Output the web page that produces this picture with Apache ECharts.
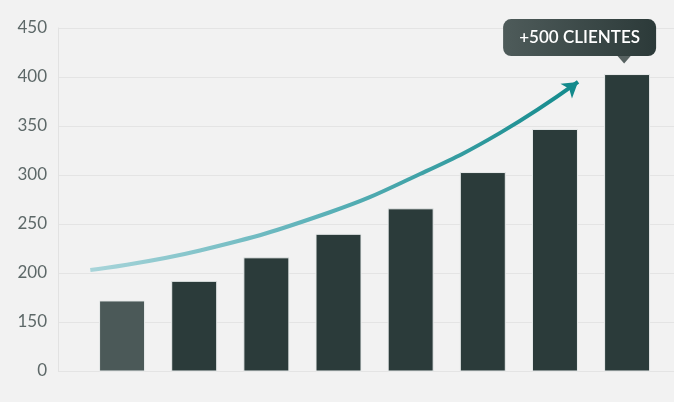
<!DOCTYPE html>
<html>
<head>
<meta charset="utf-8">
<script src="https://cdn.jsdelivr.net/npm/echarts@6/dist/echarts.min.js"></script>
<style>
html,body{margin:0;padding:0;background:#f2f2f2;}
#c{width:674px;height:402px;}
</style>
</head>
<body>
<div id="c"></div>
<script>
// Data
const categories = [0, 1, 2, 3, 4, 5, 6, 7];
const clientes = [172, 192, 216, 240, 266, 303, 347, 403];
const trendX = [-0.44, 1.08, 2.88, 4.13, 5.24, 6.32];
const trendY = [203, 223, 262, 301, 343, 395];
const yMin = 100, yMax = 450, yStep = 50;
const yZeroLabelValue = 100; // shown as "0" (broken axis)
const calloutText = '+500 CLIENTES';

const barData = clientes.map((v, i) => {
  const item = { value: [categories[i], v], itemStyle: { color: i === 0 ? '#4b5958' : '#2b3b3a' } };
  if (i === clientes.length - 1) {
    item.label = {
      show: true, position: 'top', distance: 18, offset: [-47.5, 0],
      formatter: calloutText,
      color: '#ffffff', fontFamily: 'Lato', fontSize: 17, fontWeight: 600,
      backgroundColor: new echarts.graphic.LinearGradient(0, 0, 1, 0, [
        { offset: 0, color: '#4e5b5a' }, { offset: 1, color: '#2c3a39' }
      ]),
      borderRadius: 8, padding: [9, 13], width: 127, height: 19,
      align: 'center', verticalAlign: 'bottom', lineHeight: 19
    };
  }
  return item;
});

const trendData = trendX.map((x, i) => {
  const d = { value: [x, trendY[i]] };
  if (i === trendX.length - 1) {
    d.symbol = 'arrow';
    d.symbolSize = [14, 15];
    d.symbolRotate = -52;
    d.itemStyle = { color: '#138a8c' };
  }
  return d;
});

const chart = echarts.init(document.getElementById('c'));
chart.setOption({
  backgroundColor: '#f2f2f2',
  animation: false,
  grid: { left: 58, right: 0, top: 28, bottom: 31 },
  xAxis: {
    type: 'value', min: -0.888, max: 7.65, show: false,
    splitLine: { show: false }
  },
  yAxis: {
    type: 'value', min: yMin, max: yMax, interval: yStep,
    axisLine: { show: true, onZero: false, lineStyle: { color: '#e2e2e2', width: 1 } },
    axisTick: { show: false },
    splitLine: { lineStyle: { color: '#e4e4e4', width: 1 } },
    axisLabel: {
      margin: 11, color: '#5d6868', fontFamily: 'Lato', fontSize: 17,
      formatter: v => (v === yZeroLabelValue ? '0' : String(v))
    }
  },
  series: [
    {
      type: 'bar', data: barData, barWidth: 46,
      itemStyle: { borderColor: '#e9ecec', borderWidth: 1 },
      z: 2
    },
    {
      type: 'scatter', data: [[categories[7], clientes[7]]],
      symbol: 'triangle', symbolRotate: 180, symbolSize: [14, 8], symbolOffset: [-3, -14.5],
      itemStyle: { color: '#2f3d3c' }, z: 5, silent: true
    },
    {
      type: 'line', data: trendData, smooth: 0.45, symbol: 'none', showSymbol: true,
      lineStyle: {
        width: 4,
        color: new echarts.graphic.LinearGradient(0, 0, 1, 0, [
          { offset: 0, color: '#a9d5da' }, { offset: 0.45, color: '#5fb3ba' }, { offset: 1, color: '#128a8c' }
        ])
      },
      z: 4
    }
  ]
});
</script>
</body>
</html>
